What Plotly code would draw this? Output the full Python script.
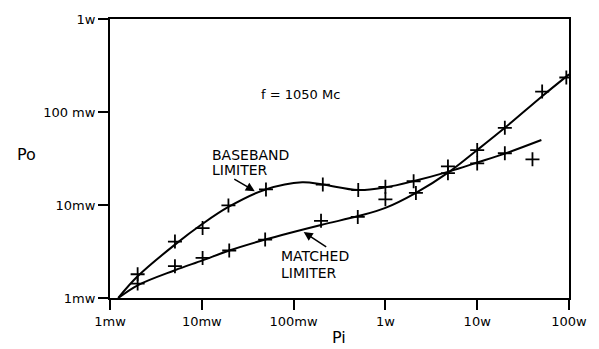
import plotly.graph_objects as go

# Measured points (watts): input power Pi and output power Po
baseband_pi = [2.0e-3, 5.1e-3, 10.2e-3, 19.5e-3, 50e-3, 0.208, 0.506, 1.0, 2.03, 4.8, 10, 20, 40]
baseband_po = [1.8e-3, 4.04e-3, 5.65e-3, 9.9e-3, 14.7e-3, 16.6e-3, 14.5e-3, 15.7e-3, 18e-3, 22e-3, 28e-3, 36e-3, 31e-3]

matched_pi = [2.0e-3, 5.1e-3, 10.2e-3, 19.9e-3, 49e-3, 0.199, 0.5, 1.0, 2.15, 4.8, 10, 20, 51, 93.5]
matched_po = [1.43e-3, 2.2e-3, 2.7e-3, 3.24e-3, 4.25e-3, 6.76e-3, 7.45e-3, 11.5e-3, 13.5e-3, 26e-3, 39e-3, 67.6e-3, 166e-3, 235e-3]

# Faired curves through the measurements
baseband_curve_pi = [1.23e-3, 2.0e-3, 5.1e-3, 10.2e-3, 19.5e-3, 49.5e-3, 0.124, 0.208, 0.506, 1.0, 2.0, 5.0, 10, 20, 50]
baseband_curve_po = [1.0e-3, 1.71e-3, 3.75e-3, 6.28e-3, 9.53e-3, 14.7e-3, 17.6e-3, 16.6e-3, 14.5e-3, 15.5e-3, 18e-3, 23e-3, 28.6e-3, 35.7e-3, 50e-3]

matched_curve_pi = [1.23e-3, 2.0e-3, 5.1e-3, 10.2e-3, 19.9e-3, 49e-3, 0.199, 0.506, 1.0, 2.15, 5.04, 10, 20, 51, 100]
matched_curve_po = [1.0e-3, 1.37e-3, 1.99e-3, 2.54e-3, 3.24e-3, 4.25e-3, 6.1e-3, 7.6e-3, 9.3e-3, 13.5e-3, 23e-3, 39e-3, 67.6e-3, 148e-3, 254e-3]

x_tickvals = [1e-3, 1e-2, 1e-1, 1, 10, 100]
x_ticktext = ["1mw", "10mw", "100mw", "1w", "10w", "100w"]
y_tickvals = [1e-3, 1e-2, 1e-1, 1]
y_ticktext = ["1mw", "10mw", "100 mw", "1w"]

FONT = "DejaVu Sans"
INK = "black"

fig = go.Figure()

for cx, cy in [(baseband_curve_pi, baseband_curve_po), (matched_curve_pi, matched_curve_po)]:
    fig.add_trace(go.Scatter(
        x=cx, y=cy, mode="lines",
        line=dict(color=INK, width=2, shape="spline", smoothing=1.0),
        hoverinfo="skip", showlegend=False,
    ))

for px, py in [(baseband_pi, baseband_po), (matched_pi, matched_po)]:
    fig.add_trace(go.Scatter(
        x=px, y=py, mode="markers",
        marker=dict(symbol="cross-thin", size=10, line=dict(color=INK, width=1.8)),
        showlegend=False,
    ))

axis_common = dict(
    type="log",
    showgrid=False,
    zeroline=False,
    showline=True,
    linecolor=INK,
    linewidth=2,
    mirror=True,
    ticks="outside",
    ticklen=10,
    tickwidth=2,
    tickcolor=INK,
    tickfont=dict(family=FONT, size=13, color=INK),
)

fig.update_xaxes(range=[-3, 2], tickvals=x_tickvals, ticktext=x_ticktext, **axis_common)
fig.update_yaxes(range=[-3, 0], tickvals=y_tickvals, ticktext=y_ticktext, **axis_common)

label_font = dict(family=FONT, size=14, color=INK)

annotations = [
    dict(x=-1.906, y=-1.457, text="BASEBAND", showarrow=False, xanchor="left", yanchor="middle", font=label_font),
    dict(x=-1.906, y=-1.622, text="LIMITER", showarrow=False, xanchor="left", yanchor="middle", font=label_font),
    dict(x=-1.155, y=-2.548, text="MATCHED", showarrow=False, xanchor="left", yanchor="middle", font=label_font),
    dict(x=-1.155, y=-2.729, text="LIMITER", showarrow=False, xanchor="left", yanchor="middle", font=label_font),
    dict(x=-0.929, y=-0.809, text="f = 1050 Mc", showarrow=False, xanchor="center", yanchor="middle",
         font=dict(family=FONT, size=13, color=INK)),
    # pointer arrows from the labels to their curves
    dict(x=-1.423, y=-1.851, text="", showarrow=True, ax=-22, ay=-13,
         arrowhead=2, arrowsize=1.2, arrowwidth=1.5, arrowcolor=INK),
    dict(x=-0.890, y=-2.290, text="", showarrow=True, ax=24, ay=16,
         arrowhead=2, arrowsize=1.2, arrowwidth=1.5, arrowcolor=INK),
    # axis titles
    dict(xref="paper", yref="paper", x=-0.182, y=0.514, text="Po", showarrow=False,
         xanchor="center", yanchor="middle", font=dict(family=FONT, size=16, color=INK)),
    dict(xref="paper", yref="paper", x=0.498, y=-0.142, text="Pi", showarrow=False,
         xanchor="center", yanchor="middle", font=dict(family=FONT, size=16, color=INK)),
]

fig.update_layout(
    width=599, height=349,
    margin=dict(l=110, r=23, t=16, b=51),
    paper_bgcolor="white",
    plot_bgcolor="white",
    annotations=annotations,
)

fig.write_html("out.html")
